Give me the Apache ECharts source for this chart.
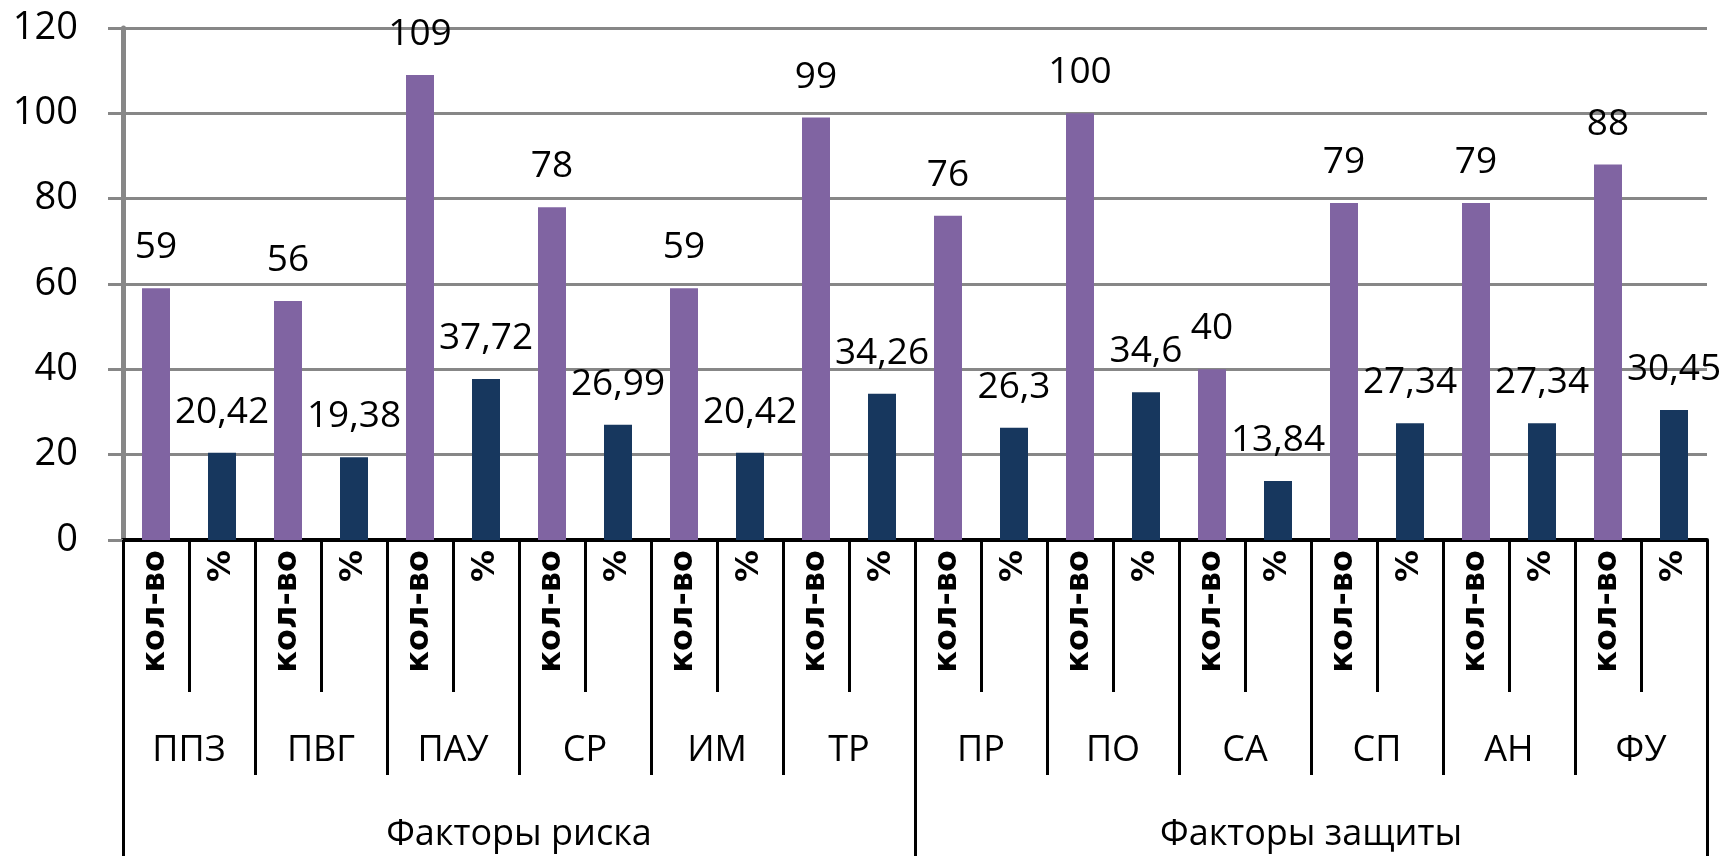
<!DOCTYPE html>
<html>
<head>
<meta charset="utf-8">
<script src="https://cdn.jsdelivr.net/npm/echarts@6/dist/echarts.min.js"></script>
<style>
html, body { margin: 0; padding: 0; background: #fff; }
#chart { width: 1727px; height: 856px; }
</style>
</head>
<body>
<div id="chart"></div>
<script>
var groups = ['ППЗ', 'ПВГ', 'ПАУ', 'СР', 'ИМ', 'ТР', 'ПР', 'ПО', 'СА', 'СП', 'АН', 'ФУ'];
var subLabels = ['кол-во', '%'];
var topGroups = ['Факторы риска', 'Факторы защиты'];
var counts = [59, 56, 109, 78, 59, 99, 76, 100, 40, 79, 79, 88];
var percents = [20.42, 19.38, 37.72, 26.99, 20.42, 34.26, 26.3, 34.6, 13.84, 27.34, 27.34, 30.45];
var yTicks = [0, 20, 40, 60, 80, 100, 120];

var cats = [], countData = [], pctData = [];
groups.forEach(function (g, i) {
    cats.push(g + '-1', g + '-2');
    countData.push(counts[i], '-');
    pctData.push('-', percents[i]);
});

var myChart = echarts.init(document.getElementById('chart'));
var font = 'Open Sans';
var labelFmt = function (p) { return String(p.value).replace('.', ','); };

var option = {
    animation: false,
    grid: {
        left: 123,
        right: 20,
        top: 28,
        bottom: 316
    },
    xAxis: [
        {
            type: 'category',
            data: cats,
            position: 'bottom',
            axisLine: { show: true, lineStyle: { color: '#000', width: 4 } },
            axisTick: { show: true, interval: 0, length: 152, lineStyle: { color: '#000', width: 3 } },
            axisLabel: {
                interval: 0,
                rotate: 90,
                margin: 10,
                fontFamily: 'DejaVu Sans',
                fontWeight: 'bold',
                fontSize: 32,
                color: '#000',
                formatter: function (v) { return v.slice(-1) === '1' ? subLabels[0] : subLabels[1]; }
            }
        },
        {
            type: 'category',
            data: groups,
            position: 'bottom',
            offset: 152,
            axisLine: { show: false },
            axisTick: { show: true, interval: 0, length: 83, lineStyle: { color: '#000', width: 3 } },
            axisLabel: { interval: 0, margin: 41, fontFamily: font, fontSize: 36, color: '#000' }
        },
        {
            type: 'category',
            data: topGroups,
            position: 'bottom',
            offset: 235,
            axisLine: { show: false },
            axisTick: { show: true, interval: 0, length: 90, lineStyle: { color: '#000', width: 3 } },
            axisLabel: { interval: 0, margin: 42, fontFamily: font, fontSize: 36, color: '#000' }
        }
    ],
    yAxis: {
        type: 'value',
        min: yTicks[0],
        max: yTicks[yTicks.length - 1],
        interval: 20,
        axisLine: { show: true, lineStyle: { color: '#878787', width: 5 } },
        axisTick: { show: true, length: 15, lineStyle: { color: '#878787', width: 3 } },
        splitLine: { show: true, lineStyle: { color: '#878787', width: 3 } },
        axisLabel: { margin: 45, fontFamily: font, fontSize: 38, color: '#000' }
    },
    series: [
        {
            type: 'bar',
            name: 'кол-во',
            stack: 'all',
            barWidth: 28,
            itemStyle: { color: '#8064A2' },
            label: { show: true, position: 'top', distance: 22, fontFamily: font, fontSize: 37, color: '#000', formatter: labelFmt },
            data: countData
        },
        {
            type: 'bar',
            name: '%',
            stack: 'all',
            barWidth: 28,
            itemStyle: { color: '#17375E' },
            label: { show: true, position: 'top', distance: 22, fontFamily: font, fontSize: 37, color: '#000', formatter: labelFmt },
            data: pctData
        }
    ]
};

myChart.setOption(option);
</script>
</body>
</html>
